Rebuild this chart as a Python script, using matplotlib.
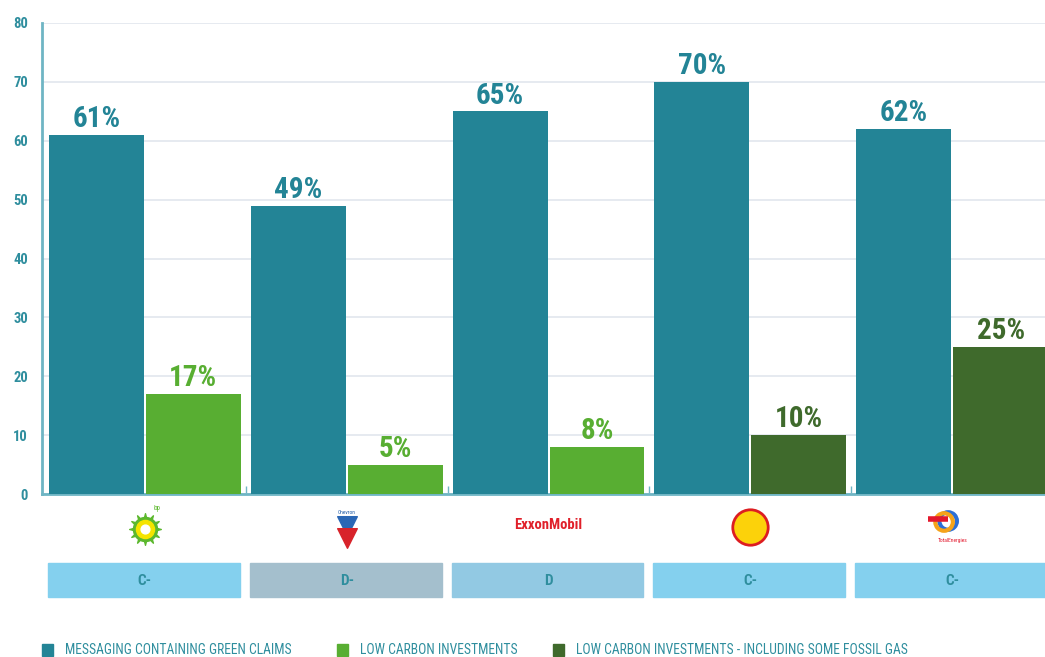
import matplotlib
matplotlib.use("Agg")
import matplotlib.pyplot as plt
from matplotlib.patches import Rectangle
from matplotlib import font_manager

names = {f.name for f in font_manager.fontManager.ttflist}
cond = [n for n in ["Roboto Condensed", "Liberation Sans Narrow", "DejaVu Sans Condensed"] if n in names]
plt.rcParams['font.family'] = cond + ['DejaVu Sans']
narrow = len(cond) > 0

# data
companies = ["bp", "Chevron", "ExxonMobil", "Shell", "TotalEnergies"]
green_claims = [61, 49, 65, 70, 62]
low_carbon = [17, 5, 8, None, None]
low_carbon_gas = [None, None, None, 10, 25]
grades = ["C-", "D-", "D", "C-", "C-"]
grade_colors = ["#84d0ee", "#a4bfcd", "#92c9e3", "#84d0ee", "#84d0ee"]
yticks = [0, 10, 20, 30, 40, 50, 60, 70, 80]
legend_labels = ["MESSAGING CONTAINING GREEN CLAIMS", "LOW CARBON INVESTMENTS",
                 "LOW CARBON INVESTMENTS - INCLUDING SOME FOSSIL GAS"]

TEAL = "#238496"
GREEN = "#58ae32"
DKGREEN = "#3f6a2c"
TXT = "#2f8e9e"

lab_fs = 21 if narrow else 17
leg_fs = 9.8 if narrow else 7.6

W, H = 1045, 657
fig = plt.figure(figsize=(W / 100, H / 100), dpi=100)
left = 42 / W
ax = fig.add_axes([left, (H - 494) / H, 1 - left, (494 - 23) / H])

bw = 0.47
x = list(range(len(companies)))

# teal bars
ax.bar([i - 0.24 for i in x], green_claims, bw, color=TEAL, zorder=3)
for i, v in enumerate(green_claims):
    ax.text(i - 0.24, v + 0.3, f"{v}%", ha="center", va="bottom", color=TEAL,
            fontsize=lab_fs, fontweight="bold", zorder=4)

# green / dark green bars
for vals, col in [(low_carbon, GREEN), (low_carbon_gas, DKGREEN)]:
    for i, v in enumerate(vals):
        if v is None:
            continue
        ax.bar(i + 0.24, v, bw, color=col, zorder=3)
        ax.text(i + 0.24, v + 0.3, f"{v}%", ha="center", va="bottom", color=col,
                fontsize=lab_fs, fontweight="bold", zorder=4)

ax.set_xlim(-0.51, 4.46)
ax.set_ylim(0, 80)
ax.set_yticks(yticks)
ax.set_yticklabels([str(t) for t in yticks], color=TXT, fontsize=10.5, fontweight="bold")
ax.tick_params(axis="y", length=0, pad=10)
ax.set_xticks([i + 0.5 for i in x[:-1]])
ax.set_xticklabels([])
ax.tick_params(axis="x", direction="in", length=6, color="#6fb5c4", width=1)
ax.grid(axis="y", color="#e1e6ee", linewidth=1.2, zorder=0)
for s in ["top", "right"]:
    ax.spines[s].set_visible(False)
ax.spines["left"].set_color("#6fb5c4")
ax.spines["left"].set_linewidth(2)
ax.spines["bottom"].set_color("#6fb5c4")
ax.spines["bottom"].set_linewidth(2)

# logos and grades row (pixel-like y coordinates)
axb = fig.add_axes([left, (H - 605) / H, 1 - left, 105 / H])
axb.set_xlim(-0.51, 4.46)
axb.set_ylim(605, 500)
axb.axis("off")

# bp
axb.scatter([0], [529], s=520, marker=(12, 1, 0), color="#5cb82e", zorder=2)
axb.scatter([0], [529], s=300, color="#5cb82e", zorder=2)
axb.scatter([0], [529], s=170, color="#f5e400", zorder=3)
axb.scatter([0], [529], s=40, color="#ffffff", zorder=4)
axb.text(0.06, 510, "bp", color="#5cb82e", fontsize=5, ha="center")
# Chevron
axb.text(1, 513, "Chevron", color="#1f5ba8", fontsize=4, ha="center", va="center")
axb.scatter([1], [526], s=200, marker="v", color="#2b67b5", zorder=2)
axb.scatter([1], [538], s=200, marker="v", color="#d8232a", zorder=2)
# ExxonMobil
axb.text(2, 525, "ExxonMobil", color="#e0202a", fontsize=10.5, fontweight="bold",
         ha="center", va="center")
# Shell
axb.scatter([3], [527], s=650, marker="o", color="#fcd20a", edgecolor="#dd1d21",
            linewidth=2, zorder=2)
# TotalEnergies
axb.scatter([3.98], [521], s=160, marker="o", facecolor="none", edgecolor="#2c6fd6",
            linewidth=3, zorder=2)
axb.scatter([3.96], [522], s=160, marker="o", facecolor="none", edgecolor="#f5a31a",
            linewidth=3, zorder=3)
axb.scatter([3.93], [519], s=200, marker="_", color="#e3182d", linewidth=4, zorder=4)
axb.text(4, 541, "TotalEnergies", color="#e3182d", fontsize=4, ha="center", va="center")

for i, (g, c) in enumerate(zip(grades, grade_colors)):
    axb.add_patch(Rectangle((i - 0.48, 563), 0.95, 34, color=c, zorder=1))
    axb.text(i, 581, g, color=TXT, fontsize=11, fontweight="bold", ha="center", va="center")

# legend
leg_x = [42, 337, 553]
for lx, lab, col in zip(leg_x, legend_labels, [TEAL, GREEN, DKGREEN]):
    fig.add_artist(Rectangle((lx / W, (H - 656) / H), 11 / W, 12 / H, color=col,
                             transform=fig.transFigure))
    fig.text((lx + 23) / W, (H - 650) / H, lab, color=TXT, fontsize=leg_fs,
             ha="left", va="center")

fig.savefig("out.png", dpi=100)
